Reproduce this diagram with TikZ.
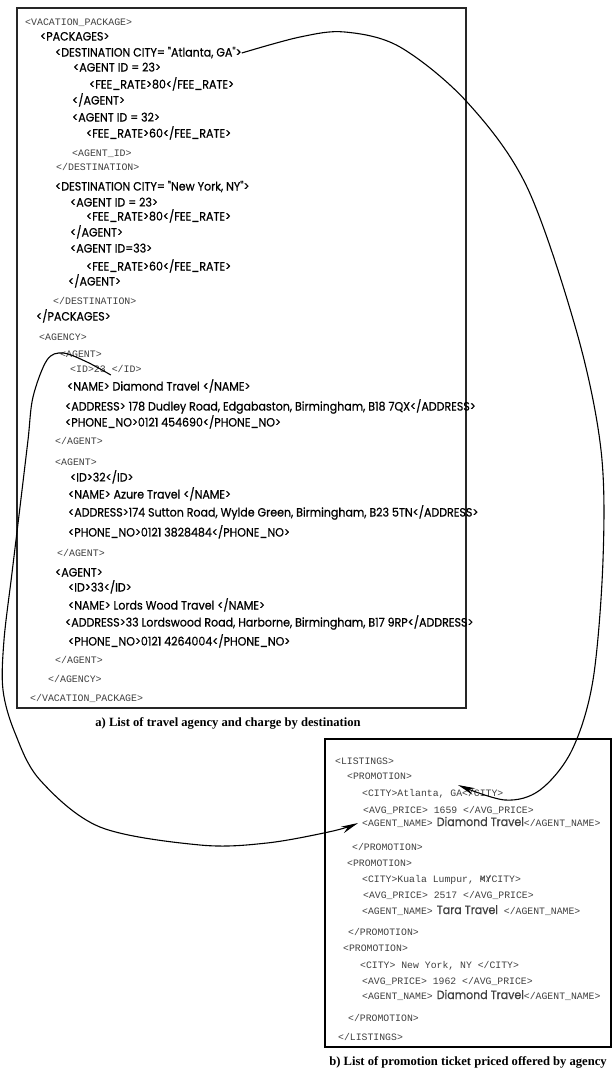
\documentclass[tikz,border=0pt]{standalone}
\usepackage{fontspec}
\setmainfont{Liberation Serif}
\newfontfamily\gothic[FakeStretch=0.92, FakeBold=0.6]{Poppins}
\newfontfamily\monof{Liberation Mono}
\newfontfamily\capf{Liberation Serif}
\usetikzlibrary{arrows.meta}
\newcommand{\gsz}{\gothic\fontsize{12}{13}\selectfont}
\tikzset{
  sans/.style={anchor=west, inner sep=0pt, text height=0.7em, text depth=0pt, font=\gsz},
  mono/.style={anchor=west, inner sep=0pt, text height=0.6em, text depth=0pt, text=black!75, font=\monof\fontsize{9.9}{10}\selectfont},
  monob/.style={mono, font=\monof\fontsize{9.8}{10}\selectfont},
  captext/.style={inner sep=0pt, font=\capf\bfseries\fontsize{12.6}{13}\selectfont},
  frame/.style={draw=black!85, line width=1.4pt},
  conn/.style={draw=black, line width=1.1pt, -{Stealth[length=17pt,width=7pt]}}
}
\begin{document}
\begin{tikzpicture}[x=1pt,y=-1pt]
\useasboundingbox (0,0) rectangle (612,1080);
% box a
\draw[frame] (17,8) rectangle (466,708);
\node[mono] (vp) at (25,22) {<VACATION\_PACKAGE>};
\node[sans] (pk) at (40,37) {<PACKAGES>};
\node[sans] (atl) at (55,53) {<DESTINATION CITY= "Atlanta, GA">};
\node[sans] (ag1) at (73,68) {<AGENT ID = 23>};
\node[sans] (fr1) at (89,85) {<FEE\_RATE>80</FEE\_RATE>};
\node[sans] (eag1) at (72,101) {</AGENT>};
\node[sans] (ag2) at (72,118) {<AGENT ID = 32>};
\node[sans] (fr2) at (86,134) {<FEE\_RATE>60</FEE\_RATE>};
\node[mono] (agid) at (72,153) {<AGENT\_ID>};
\node[mono] (ed1) at (56,167) {</DESTINATION>};
\node[sans] (ny) at (55,187) {<DESTINATION CITY= "New York, NY">};
\node[sans] (ag3) at (70,203) {<AGENT ID = 23>};
\node[sans] (fr3) at (86,217) {<FEE\_RATE>80</FEE\_RATE>};
\node[sans] (eag3) at (70,233) {</AGENT>};
\node[sans] (ag4) at (70,249) {<AGENT ID=33>};
\node[sans] (fr4) at (86,267) {<FEE\_RATE>60</FEE\_RATE>};
\node[sans] (eag4) at (68,282) {</AGENT>};
\node[mono] (ed2) at (53,301) {</DESTINATION>};
\node[sans] (epk) at (36,317) {</PACKAGES>};
\node[mono] (agy) at (39,337) {<AGENCY>};
\node[mono] (agt1) at (60,354) {<AGENT>};
\node[mono] (id23) at (70,369) {<ID>23 </ID>};
\node[sans] (nm1) at (67,387) {<NAME> Diamond Travel </NAME>};
\node[sans] (ad1) at (65,407) {<ADDRESS> 178 Dudley Road, Edgabaston, Birmingham, B18 7QX</ADDRESS>};
\node[sans] (ph1) at (65,423) {<PHONE\_NO>0121 454690</PHONE\_NO>};
\node[mono] (eagt1) at (55,441) {</AGENT>};
\node[mono] (agt2) at (55,462) {<AGENT>};
\node[sans] (id32) at (70,478) {<ID>32</ID>};
\node[sans] (nm2) at (68,495) {<NAME> Azure Travel </NAME>};
\node[sans] (ad2) at (68,513) {<ADDRESS>174 Sutton Road, Wylde Green, Birmingham, B23 5TN</ADDRESS>};
\node[sans] (ph2) at (68,533) {<PHONE\_NO>0121 3828484</PHONE\_NO>};
\node[mono] (eagt2) at (57,553) {</AGENT>};
\node[sans] (agt3) at (55,573) {<AGENT>};
\node[sans] (id33) at (68,588) {<ID>33</ID>};
\node[sans] (nm3) at (68,606) {<NAME> Lords Wood Travel </NAME>};
\node[sans] (ad3) at (65,623) {<ADDRESS>33 Lordswood Road, Harborne, Birmingham, B17 9RP</ADDRESS>};
\node[sans] (ph3) at (68,642) {<PHONE\_NO>0121 4264004</PHONE\_NO>};
\node[mono] (eagt3) at (55,660) {</AGENT>};
\node[mono] (eagy) at (48,679) {</AGENCY>};
\node[mono] (evp) at (30,698) {</VACATION\_PACKAGE>};
\node[captext] (capa) at (228,723) {a) List of travel agency and charge by destination};
% box b
\draw[frame, draw=black] (325,739) rectangle (611,1047);
\node[monob] (lst) at (335,761) {<LISTINGS>};
\node[monob] (pr1) at (347,776) {<PROMOTION>};
\node[monob] (city1) at (362,793) {<CITY>Atlanta, GA</CITY>};
\node[monob] (avg1) at (363,810) {<AVG\_PRICE> 1659 </AVG\_PRICE>};
\node[monob] (an1) at (362,823) {<AGENT\_NAME>\hspace{4pt}{\gsz Diamond Travel}</AGENT\_NAME>};
\node[monob] (epr1) at (352,847) {</PROMOTION>};
\node[monob] (pr2) at (347,863) {<PROMOTION>};
\node[monob] (city2) at (362,879) {<CITY>Kuala Lumpur, \makebox[0pt][l]{MY}</CITY>};
\node[monob] (avg2) at (363,895) {<AVG\_PRICE> 2517 </AVG\_PRICE>};
\node[monob] (an2) at (362,911) {<AGENT\_NAME>\hspace{4pt}{\gsz Tara Travel} </AGENT\_NAME>};
\node[monob] (epr2) at (348,932) {</PROMOTION>};
\node[monob] (pr3) at (343,948) {<PROMOTION>};
\node[monob] (city3) at (360,965) {<CITY> New York, NY </CITY>};
\node[monob] (avg3) at (362,981) {<AVG\_PRICE> 1962 </AVG\_PRICE>};
\node[monob] (an3) at (362,996) {<AGENT\_NAME>\hspace{4pt}{\gsz Diamond Travel}</AGENT\_NAME>};
\node[monob] (epr3) at (348,1018) {</PROMOTION>};
\node[monob] (elst) at (338,1037) {</LISTINGS>};
\node[captext] (capb) at (468,1062) {b) List of promotion ticket priced offered by agency};
% connectors
\coordinate (tipA) at (458,785);
\draw[conn] plot[smooth, tension=0.55] coordinates {(atl.east) (300,37) (345,32) (400,47) (467,102) (527,187) (577,333) (601,450) (603,560) (593,680) (572,750) (540,790) (505,800) (tipA)};
\draw[conn] plot[smooth, tension=0.55] coordinates {([shift={(5,6)}]id23.center) (87,362) (63,353) (47,360) (33,397) (28,440) (20,507) (12,573) (4,640) (3,690) (15,733) (40,780) (100,827) (200,845) (267,843) (333,831) ([xshift=-4pt]an1.west)};
\end{tikzpicture}
\end{document}
